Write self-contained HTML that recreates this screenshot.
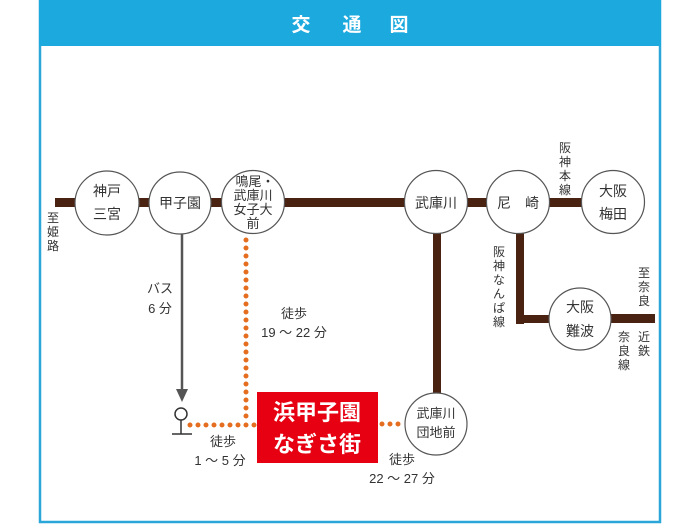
<!DOCTYPE html>
<html><head><meta charset="utf-8"><style>
html,body{margin:0;padding:0;background:#fff;width:700px;height:525px;overflow:hidden}
svg text{font-family:"Liberation Sans","Noto Sans CJK JP",sans-serif;fill:#333}
</style></head><body>
<svg width="700" height="525" viewBox="0 0 700 525" xmlns="http://www.w3.org/2000/svg">
<rect x="40" y="1" width="620" height="521" fill="#fff" stroke="#2aa6d9" stroke-width="2.5"/>
<rect x="39" y="0" width="622" height="46" fill="#1ca9de"/>
<g font-size="19" font-weight="bold" text-anchor="middle">
<text x="301" y="31" style="fill:#fff">交</text>
<text x="352" y="31" style="fill:#fff">通</text>
<text x="399" y="31" style="fill:#fff">図</text>
</g>
<!-- lines -->
<g fill="#4a2211">
<rect x="55" y="198" width="527" height="9"/>
<rect x="433" y="202" width="8" height="195"/>
<rect x="516" y="202" width="8" height="122"/>
<rect x="516" y="315" width="40" height="8"/>
<rect x="600" y="314" width="55" height="9"/>
</g>
<!-- bus -->
<line x1="182" y1="234" x2="182" y2="392" stroke="#555" stroke-width="2.5"/>
<polygon points="176,389 188,389 182,402" fill="#555"/>
<circle cx="181" cy="414" r="6" fill="#fff" stroke="#333" stroke-width="1.5"/>
<line x1="181" y1="420" x2="181" y2="434" stroke="#333" stroke-width="1.5"/>
<line x1="172" y1="434" x2="192" y2="434" stroke="#333" stroke-width="1.5"/>
<!-- dotted -->
<g stroke="#e46d1f" stroke-width="5" stroke-linecap="round" stroke-dasharray="0 8" fill="none">
<line x1="246" y1="240" x2="246" y2="424"/>
<line x1="190" y1="425" x2="256" y2="425"/>
<line x1="382" y1="424" x2="404" y2="424"/>
</g>
<!-- circles -->
<g fill="#fff" stroke="#555" stroke-width="1.2">
<circle cx="107" cy="203" r="32"/>
<circle cx="180" cy="203" r="31"/>
<circle cx="253" cy="202" r="31.5"/>
<circle cx="436" cy="202" r="31.5"/>
<circle cx="518" cy="202" r="31.5"/>
<circle cx="613" cy="202" r="31.5"/>
<circle cx="580" cy="319" r="31"/>
<circle cx="436" cy="424" r="31"/>
</g>
<g font-size="14" text-anchor="middle">
<text x="107" y="196">神戸</text><text x="107" y="219">三宮</text>
<text x="180" y="208">甲子園</text>
<text x="436" y="208">武庫川</text>
<text x="518" y="208">尼　崎</text>
<text x="613" y="196">大阪</text><text x="613" y="219">梅田</text>
<text x="580" y="312">大阪</text><text x="580" y="336">難波</text>
</g>
<g font-size="13" text-anchor="middle">
<text x="255" y="186">鳴尾・</text><text x="253" y="200">武庫川</text><text x="253" y="214">女子大</text><text x="253" y="228">前</text>
<text x="436" y="418">武庫川</text><text x="436" y="437">団地前</text>
</g>
<!-- vertical labels -->
<g font-size="12" text-anchor="middle">
<text x="53" y="222">至</text><text x="53" y="236">姫</text><text x="53" y="250">路</text>
<text x="565" y="152">阪</text><text x="565" y="166">神</text><text x="565" y="180">本</text><text x="565" y="194">線</text>
<text x="499" y="256">阪</text><text x="499" y="270">神</text><text x="499" y="284">な</text><text x="499" y="298">ん</text><text x="499" y="312">ぱ</text><text x="499" y="326">線</text>
<text x="644" y="277">至</text><text x="644" y="291">奈</text><text x="644" y="305">良</text>
<text x="644" y="341">近</text><text x="644" y="355">鉄</text>
<text x="624" y="341">奈</text><text x="624" y="355">良</text><text x="624" y="369">線</text>
</g>
<!-- time labels -->
<g font-size="13" text-anchor="middle">
<text x="160" y="293">バス</text><text x="160" y="313">6 分</text>
<text x="294" y="318">徒歩</text><text x="294" y="337">19 ～ 22 分</text>
<text x="223" y="446">徒歩</text><text x="220" y="465">1 ～ 5 分</text>
<text x="402" y="464">徒歩</text><text x="402" y="483">22 ～ 27 分</text>
</g>
<!-- red box -->
<rect x="257" y="392" width="121" height="71" fill="#e60012"/>
<g font-size="22" font-weight="bold" text-anchor="middle">
<text x="317" y="420" style="fill:#fff">浜甲子園</text>
<text x="317" y="452" style="fill:#fff">なぎさ街</text>
</g>
</svg>
</body></html>
